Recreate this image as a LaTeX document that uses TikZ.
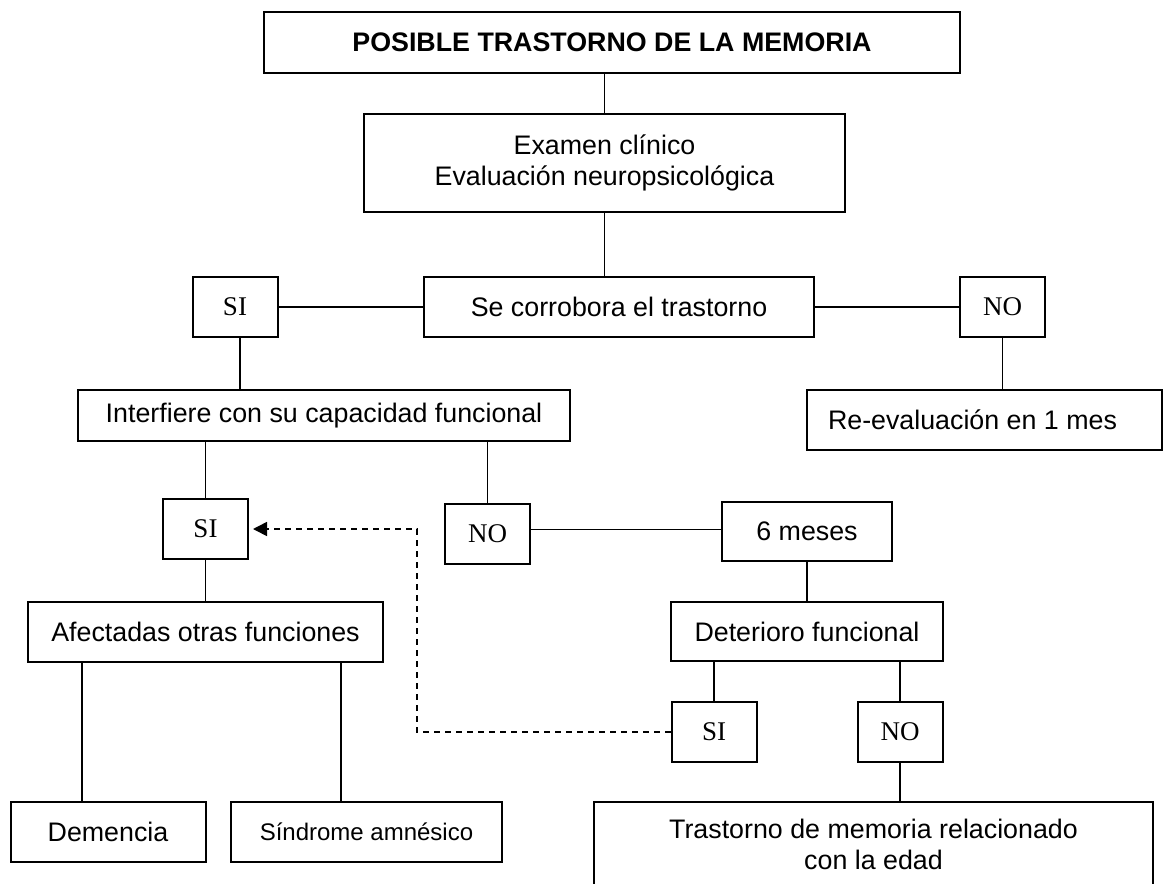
\documentclass[tikz,border=0pt]{standalone}
\usepackage{fontspec}
\setmainfont{Liberation Sans}
\newfontfamily\answerfont{Liberation Serif}
\usetikzlibrary{
  arrows.meta,
  positioning,
  calc
}
\tikzset{
  block/.style={
    draw,
    line width=1pt,
    align=center,
    inner sep=0pt,
    font=\fontsize{13.4}{15.5}\selectfont
  },
  answer/.style={
    block,
    font=\answerfont\fontsize{13.5}{15.5}\selectfont,
    minimum width=42.5pt,
    minimum height=30pt
  },
  link/.style={line width=0.8pt}
}

\begin{document}
\begin{tikzpicture}[x=0.5pt,y=-0.5pt]
    \useasboundingbox (0,0) rectangle (1163,884);
    \clip (0,0) rectangle (1163,884);

    % upper part
    \node[block, font=\fontsize{13.4}{15.5}\selectfont\bfseries,
      minimum width=348pt, minimum height=30.5pt] (title) at (612,42.5)
      {POSIBLE TRASTORNO DE LA MEMORIA};
    \node[block, minimum width=240.5pt, minimum height=49pt] (exam) at (604.5,163)
      {Examen clínico\\Evaluación neuropsicológica};
    \node[block, minimum width=195pt, minimum height=30pt] (corr) at (619,307)
      {Se corrobora el trastorno};
    \node[answer] (si1) at (235,307) {SI};
    \node[answer] (no1) at (1002.5,307) {NO};
    \node[block, minimum width=177.5pt, minimum height=30pt] (reeval) at (984.5,420)
      {Re-evaluación en 1 mes\hspace{12pt}};
    \node[block, minimum width=246pt, minimum height=25.5pt] (interf) at (324,415.5)
      {Interfiere con su capacidad funcional};

    % left branch
    \node[answer] (si2) at (205.5,529) {SI};
    \node[block, minimum width=177.5pt, minimum height=30pt] (afect) at (205.5,632)
      {Afectadas otras funciones};
    \node[block, minimum width=97.5pt, minimum height=30pt] (dem) at (108,832)
      {Demencia};
    \node[block, font=\fontsize{12}{14}\selectfont,
      minimum width=135.5pt, minimum height=30pt] (sind) at (366.5,832)
      {Síndrome amnésico};

    % right branch
    \node[answer] (no2) at (487.5,533.5) {NO};
    \node[block, minimum width=85pt, minimum height=29.5pt] (seis) at (807,531.5)
      {6 meses};
    \node[block, minimum width=136pt, minimum height=29.5pt] (deter) at (807,631.5)
      {Deterioro funcional};
    \node[answer] (si3) at (714,732) {SI};
    \node[answer] (no3) at (900,732) {NO};
    \node[block, minimum width=279.5pt, minimum height=42pt] (trast) at (873.5,844)
      {Trastorno de memoria relacionado\\con la edad};

    \coordinate (turn) at (417,529);

    \draw[link] (exam.north) -- (exam.north |- title.south);
    \draw[link] (exam.south) -- (exam.south |- corr.north);
    \draw[link] (si1.east) -- (corr.west);
    \draw[link] (corr.east) -- (no1.west);
    \draw[link] (no1.south) -- (no1.south |- reeval.north);
    \draw[link] ([xshift=2.5pt]si1.south) -- ([xshift=2.5pt]si1.south |- interf.north);
    \draw[link] (interf.south -| si2.north) -- (si2.north);
    \draw[link] (interf.south -| no2.north) -- (no2.north);
    \draw[link] ([yshift=2pt]no2.east) -- ([yshift=2pt]no2.east -| seis.west);
    \draw[link] (seis.south) -- (deter.north);
    \draw[link] (si2.south) -- (afect.north);
    \draw[link] (deter.south -| si3.north) -- (si3.north);
    \draw[link] (deter.south -| no3.north) -- (no3.north);
    \draw[link] (no3.south) -- (no3.south |- trast.north);
    \draw[link] ([xshift=27.5pt]afect.south west)
      -- ([xshift=27.5pt]afect.south west |- dem.north);
    \draw[link] ([xshift=-21.5pt]afect.south east)
      -- ([xshift=-21.5pt]afect.south east |- sind.north);
    \draw[link, dash pattern=on 3pt off 2.5pt,
      -{Triangle[length=7pt,width=7pt]}, shorten >=2pt]
      (si3.west) -| (turn) -- (si2.east);
\end{tikzpicture}
\end{document}
